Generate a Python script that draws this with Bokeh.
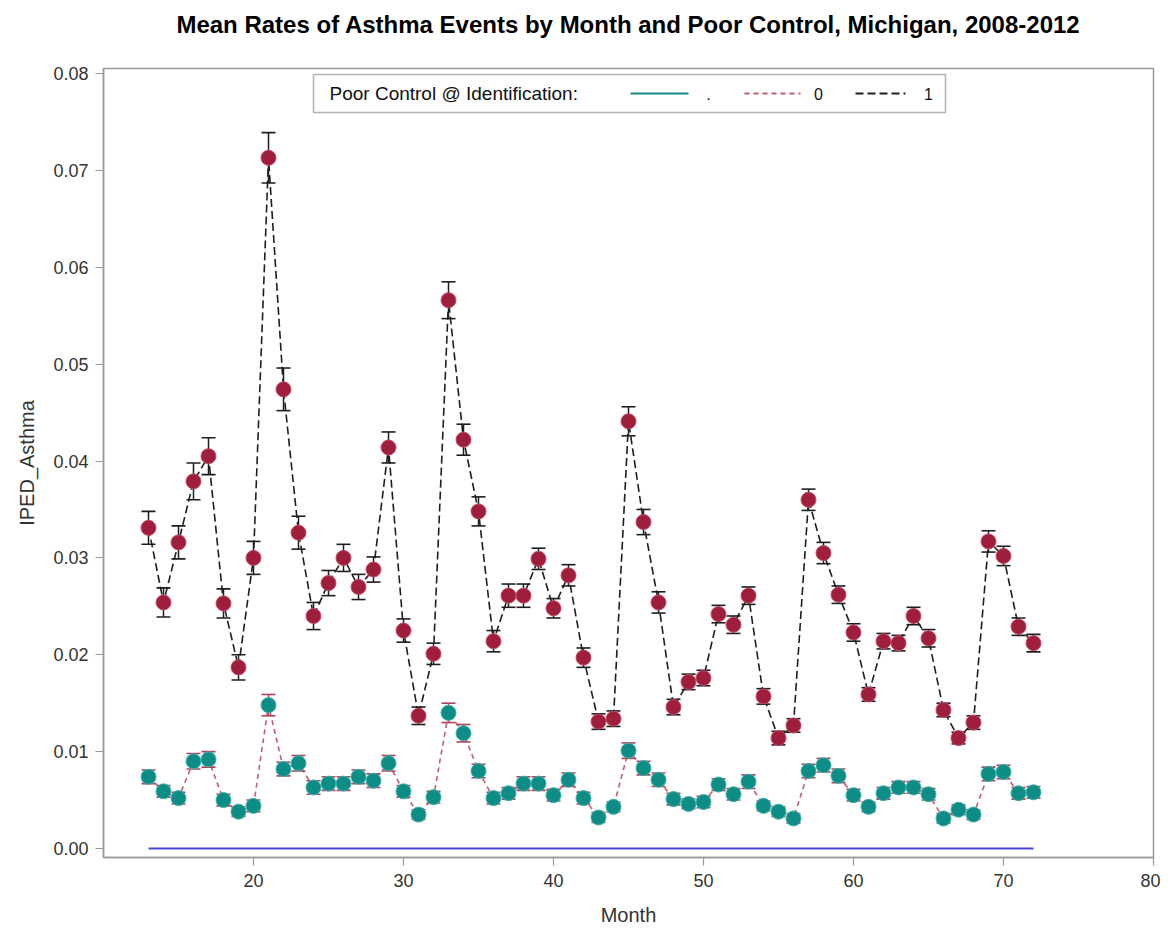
from bokeh.plotting import figure
from bokeh.models import FixedTicker, NumeralTickFormatter, Range1d, BoxAnnotation, Label, Arrow, Title
from bokeh.embed import file_html
from bokeh.resources import INLINE

# ---------------- data ----------------
months = list(range(13, 73))

# Poor control = 1
rate_pc1 = [0.0331, 0.0254, 0.0316, 0.0379, 0.0405, 0.0253, 0.0187, 0.0300, 0.0713, 0.0474,
            0.0326, 0.0240, 0.0274, 0.0300, 0.0270, 0.0288, 0.0414, 0.0225, 0.0137, 0.0201,
            0.0566, 0.0422, 0.0348, 0.0214, 0.0261, 0.0261, 0.0299, 0.0248, 0.0282, 0.0197,
            0.0131, 0.0134, 0.0441, 0.0337, 0.0254, 0.0146, 0.0172, 0.0176, 0.0242, 0.0231,
            0.0261, 0.0157, 0.0114, 0.0127, 0.0360, 0.0305, 0.0262, 0.0223, 0.0159, 0.0214,
            0.0212, 0.0240, 0.0217, 0.0143, 0.0114, 0.0130, 0.0317, 0.0302, 0.0229, 0.0212]
err_pc1 = [0.0017, 0.0015, 0.0017, 0.0019, 0.0019, 0.0015, 0.0013, 0.0017, 0.0026, 0.0022,
           0.0017, 0.0014, 0.0013, 0.0014, 0.0013, 0.0013, 0.0016, 0.0012, 0.0009, 0.0011,
           0.0019, 0.0016, 0.0015, 0.0011, 0.0012, 0.0012, 0.0011, 0.0010, 0.0011, 0.0010,
           0.0008, 0.0008, 0.0015, 0.0013, 0.0011, 0.0008, 0.0008, 0.0008, 0.0009, 0.0009,
           0.0009, 0.0008, 0.0007, 0.0007, 0.0011, 0.0011, 0.0009, 0.0009, 0.0007, 0.0008,
           0.0008, 0.0009, 0.0009, 0.0007, 0.0006, 0.0007, 0.0011, 0.0010, 0.0009, 0.0009]

# Poor control = 0
rate_pc0 = [0.0074, 0.0059, 0.0052, 0.0090, 0.0092, 0.0050, 0.0038, 0.0044, 0.0148, 0.0082,
            0.0088, 0.0063, 0.0067, 0.0067, 0.0074, 0.0070, 0.0088, 0.0059, 0.0035, 0.0053,
            0.0140, 0.0119, 0.0080, 0.0052, 0.0057, 0.0067, 0.0067, 0.0055, 0.0071, 0.0052,
            0.0032, 0.0043, 0.0101, 0.0083, 0.0071, 0.0051, 0.0046, 0.0048, 0.0066, 0.0056,
            0.0069, 0.0044, 0.0038, 0.0031, 0.0080, 0.0086, 0.0075, 0.0055, 0.0043, 0.0057,
            0.0063, 0.0063, 0.0056, 0.0031, 0.0040, 0.0035, 0.0077, 0.0079, 0.0057, 0.0058]
err_pc0 = [0.0007, 0.0006, 0.0006, 0.0008, 0.0008, 0.0006, 0.0005, 0.0006, 0.0011, 0.0007,
           0.0008, 0.0007, 0.0007, 0.0007, 0.0007, 0.0007, 0.0008, 0.0006, 0.0005, 0.0006,
           0.0010, 0.0009, 0.0007, 0.0006, 0.0006, 0.0007, 0.0007, 0.0006, 0.0007, 0.0006,
           0.0005, 0.0005, 0.0008, 0.0007, 0.0007, 0.0006, 0.0005, 0.0006, 0.0006, 0.0006,
           0.0007, 0.0005, 0.0005, 0.0005, 0.0007, 0.0007, 0.0007, 0.0006, 0.0005, 0.0006,
           0.0006, 0.0006, 0.0006, 0.0005, 0.0005, 0.0005, 0.0007, 0.0007, 0.0006, 0.0006]

# Poor control = "." (missing)
missing_months = [13, 72]
missing_rate = [0.0, 0.0]

x_ticks = [20, 30, 40, 50, 60, 70, 80]
y_ticks = [0.00, 0.01, 0.02, 0.03, 0.04, 0.05, 0.06, 0.07, 0.08]

TITLE = "Mean Rates of Asthma Events by Month and Poor Control, Michigan, 2008-2012"

# ---------------- styling ----------------
FONT = "Liberation Sans"
RED = "#9F1E3B"
RED_EDGE = "#C24A66"
TEAL = "#0E8C86"
TEAL_EDGE = "#3DB3AB"
PINK = "#C45C70"
PINK_BAR = "#B2425A"
BLACK = "#1E1E1E"
BLUE = "#4646D6"
GRAY = "#9A9A9A"

W, H = 1160, 932
BL, BR, BT, BB = 103, 7, 68, 75
X0, X1 = 10, 80
Y0, Y1 = -0.00093, 0.08052
FW, FH = W - BL - BR, H - BT - BB


def dx(px):  # canvas pixel -> data x (legend layout only)
    return X0 + (px - BL) / FW * (X1 - X0)


def dy(py):  # canvas pixel -> data y (legend layout only)
    return Y1 - (py - BT) / FH * (Y1 - Y0)


p = figure(width=W, height=H, output_backend="svg", toolbar_location=None,
           x_range=Range1d(X0, X1), y_range=Range1d(Y0, Y1), title=None,
           min_border_left=BL, min_border_right=BR, min_border_top=BT, min_border_bottom=BB)

# spacer between frame and title, then the title itself (stacked outward)
p.add_layout(Title(text=" ", text_font=FONT, text_font_size="12px", standoff=8), "above")
p.add_layout(Title(text=TITLE, align="center", text_font=FONT, text_font_size="24px",
                   text_font_style="bold", text_color="#000000", standoff=14), "above")

p.background_fill_color = "white"
p.border_fill_color = "white"
p.outline_line_color = GRAY
p.outline_line_width = 1.5
p.xgrid.visible = False
p.ygrid.visible = False

for ax in (p.xaxis[0], p.yaxis[0]):
    ax.axis_line_color = GRAY
    ax.axis_line_width = 1.5
    ax.major_tick_line_color = GRAY
    ax.major_tick_line_width = 1.2
    ax.major_tick_out = 8
    ax.major_tick_in = 0
    ax.minor_tick_line_color = None
    ax.major_label_text_font = FONT
    ax.major_label_text_font_size = "18px"
    ax.major_label_text_color = "#333333"
    ax.axis_label_text_font = FONT
    ax.axis_label_text_font_size = "20px"
    ax.axis_label_text_font_style = "normal"
    ax.axis_label_text_color = "#333333"

p.xaxis.ticker = FixedTicker(ticks=x_ticks)
p.yaxis.ticker = FixedTicker(ticks=y_ticks)
p.yaxis.formatter = NumeralTickFormatter(format="0.00")
p.xaxis.axis_label = "Month"
p.yaxis.axis_label = "IPED_Asthma"
p.xaxis.major_label_standoff = 8
p.xaxis.axis_label_standoff = 14
p.yaxis.major_label_standoff = 7
p.yaxis.axis_label_standoff = 12

# ---------------- glyphs ----------------
lo1 = [v - e for v, e in zip(rate_pc1, err_pc1)]
hi1 = [v + e for v, e in zip(rate_pc1, err_pc1)]
lo0 = [v - e for v, e in zip(rate_pc0, err_pc0)]
hi0 = [v + e for v, e in zip(rate_pc0, err_pc0)]

# "." group line
p.line(missing_months, missing_rate, line_color=BLUE, line_width=2.2)

# connecting lines
p.line(months, rate_pc0, line_color=PINK, line_width=1.6, line_dash="5 4")
p.line(months, rate_pc1, line_color=BLACK, line_width=1.6, line_dash="8 4")

# error bars
p.segment(months, lo0, months, hi0, line_color=PINK_BAR, line_width=1.5)
p.scatter(months, lo0, marker="dash", size=14, line_color=PINK_BAR, line_width=1.6)
p.scatter(months, hi0, marker="dash", size=14, line_color=PINK_BAR, line_width=1.6)
p.segment(months, lo1, months, hi1, line_color=BLACK, line_width=1.5)
p.scatter(months, lo1, marker="dash", size=14, line_color=BLACK, line_width=1.6)
p.scatter(months, hi1, marker="dash", size=14, line_color=BLACK, line_width=1.6)

# markers
p.scatter(months, rate_pc0, marker="circle", size=15, fill_color=TEAL, line_color=TEAL_EDGE, line_width=1)
p.scatter(months, rate_pc1, marker="circle", size=15, fill_color=RED, line_color=RED_EDGE, line_width=1)

# ---------------- legend (drawn as annotations) ----------------
leg_top, leg_bot = 74, 112
leg_mid = (leg_top + leg_bot) / 2
p.add_layout(BoxAnnotation(left=dx(313), right=dx(945), top=dy(leg_top), bottom=dy(leg_bot),
                           fill_color="white", fill_alpha=1.0, line_color="#000000", line_width=1.5))
p.add_layout(Label(x=dx(329), y=dy(leg_mid), text="Poor Control @ Identification:",
                   text_font=FONT, text_font_size="19px", text_color="#111111",
                   text_baseline="middle", text_align="left"))
samples = [(630, 688, TEAL, None, 708, "."),
           (744, 800, PINK, "5 4", 818, "0"),
           (855, 905, BLACK, "8 4", 928, "1")]
for x_a, x_b, col, dash, x_t, lab in samples:
    kw = dict(line_color=col, line_width=1.8)
    if dash:
        kw["line_dash"] = dash
    p.add_layout(Arrow(start=None, end=None, x_start=dx(x_a), y_start=dy(leg_mid),
                       x_end=dx(x_b), y_end=dy(leg_mid), **kw))
    p.add_layout(Label(x=dx(x_t), y=dy(leg_mid), text=lab, text_font=FONT,
                       text_font_size="16px", text_color="#111111",
                       text_baseline="middle", text_align="center"))

open("out.html", "w").write(file_html(p, INLINE))
